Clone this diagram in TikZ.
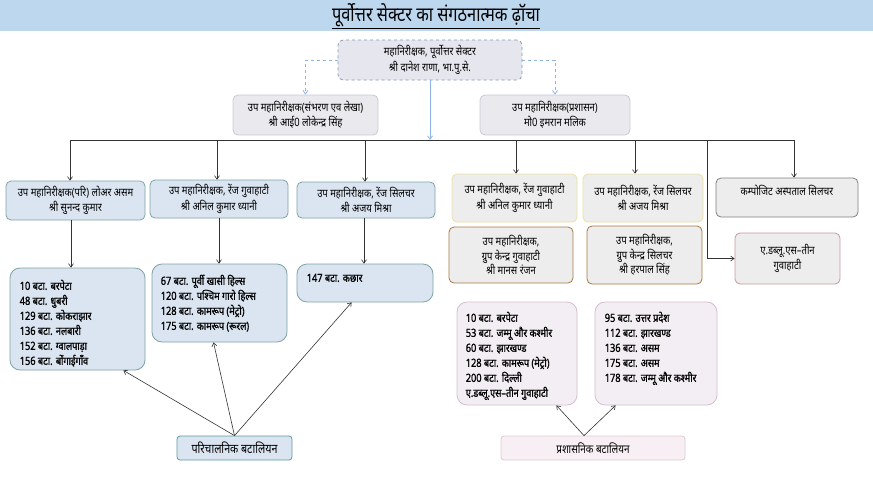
\documentclass[tikz,border=0pt]{standalone}
\usepackage{fontspec}
\setmainfont[Script=Devanagari]{Noto Sans}
\newfontfamily\hindi[Script=Devanagari,FakeStretch=0.82]{Noto Sans}
\newfontfamily\hindib[Script=Devanagari,FakeStretch=0.82,FakeBold=1.2]{Noto Sans}
\usetikzlibrary{arrows.meta}
\definecolor{titlebg}{HTML}{BDD7EE}
\definecolor{topfill}{HTML}{E6E6EE}
\definecolor{topdraw}{HTML}{8497B0}
\definecolor{dashc}{HTML}{8EB4E3}
\definecolor{lgfill}{HTML}{E9E9EE}
\definecolor{lgdraw}{HTML}{C9C9D6}
\definecolor{bluefill}{HTML}{DAE5F1}
\definecolor{bluedraw}{HTML}{7FA3A6}
\definecolor{grayfill}{HTML}{EDEDED}
\definecolor{yelldraw}{HTML}{EEDFA0}
\definecolor{compdraw}{HTML}{808080}
\definecolor{browndraw}{HTML}{A67842}
\definecolor{rosedraw}{HTML}{C79A9F}
\definecolor{pinkfill}{HTML}{F3EEF3}
\definecolor{pinkdraw}{HTML}{D6BCD0}
\definecolor{ponefill}{HTML}{DAE5F1}
\definecolor{ponedraw}{HTML}{5B9BA0}
\definecolor{ptwofill}{HTML}{F7EFF3}
\definecolor{ptwodraw}{HTML}{E0C8D3}
\definecolor{linec}{HTML}{333333}
\tikzset{
  every node/.style={font=\hindi\fontsize{11.5}{15.5}\selectfont, inner sep=0pt, text=black},
  box/.style={draw, rounded corners=5pt, line width=0.8pt, align=center},
  listbox/.style={draw, rounded corners=10pt, line width=0.8pt},
  listtext/.style={anchor=north west, align=left, font=\hindib\fontsize{11.2}{15}\selectfont},
  arr/.style={draw=linec, line width=0.6pt, -{Straight Barb[length=3.5pt,width=5pt]}},
  plain/.style={draw=linec, line width=0.6pt},
  bluearr/.style={draw=dashc, line width=0.8pt, -{Straight Barb[length=3.5pt,width=5pt]}},
  dasharr/.style={draw=dashc, line width=0.8pt, dashed, -{Straight Barb[length=3.5pt,width=5pt]}},
}
\begin{document}
\begin{tikzpicture}[x=1pt,y=-1pt]
\useasboundingbox (0,0) rectangle (873,491);
\fill[titlebg] (0,0) rectangle (873,31);
\node[font=\hindi\fontsize{20}{22}\selectfont] (title) at (436,15) {पूर्वोत्तर सेक्टर का संगठनात्मक ढ़ॉचा};
\draw[line width=0.7pt] ([yshift=-1pt]title.south west) -- ([yshift=-1pt]title.south east);

% top
\node[box, dashed, draw=topdraw, fill=topfill, minimum width=184, minimum height=40] (top) at (430,60) {महानिरीक्षक, पूर्वोत्तर सेक्टर\\श्री दानेश राणा, भा.पु.से.};
\node[box, draw=lgdraw, fill=lgfill, minimum width=145, minimum height=40] (A) at (305.5,115) {उप महानिरीक्षक(संभरण एव लेखा)\\श्री आई0 लोकेन्द्र सिंह};
\node[box, draw=lgdraw, fill=lgfill, minimum width=150, minimum height=40] (B) at (555,115) {उप महानिरीक्षक(प्रशासन)\\मो0 इमरान मलिक};
\draw[dasharr] (top.west) -| (A.north);
\draw[dasharr] (top.east) -| (B.north);

% hub line
\coordinate (hub) at (430,140);
\coordinate (h1) at (70,140);
\coordinate (h2) at (217,140);
\coordinate (h3) at (365,140);
\coordinate (h4) at (516,140);
\coordinate (h5) at (635,140);
\coordinate (h6) at (707,140);
\coordinate (h7) at (794,140);
\draw[bluearr] (top.south) -- (hub);
\draw[plain] (h1) -- (h7);

% level 3
\node[box, draw=bluedraw, fill=bluefill, minimum width=139, minimum height=39] (b1) at (75.5,200.5) {उप महानिरीक्षक(परि) लोअर असम\\श्री सुनन्द कुमार};
\node[box, draw=bluedraw, fill=bluefill, minimum width=138, minimum height=38] (b2) at (219,199) {उप महानिरीक्षक, रेंज गुवाहाटी\\श्री अनिल कुमार ध्यानी};
\node[box, draw=bluedraw, fill=bluefill, minimum width=138, minimum height=36] (b3) at (366,200) {उप महानिरीक्षक, रेंज सिलचर\\श्री अजय मिश्रा};
\node[box, draw=yelldraw, fill=grayfill, minimum width=125, minimum height=48] (b4) at (514.5,198) {उप महानिरीक्षक, रेंज गुवाहाटी\\श्री अनिल कुमार ध्यानी};
\node[box, draw=yelldraw, fill=grayfill, minimum width=120, minimum height=48] (b5) at (643,198) {उप महानिरीक्षक, रेंज सिलचर\\श्री अजय मिश्रा};
\node[box, draw=compdraw, fill=grayfill, minimum width=142, minimum height=39] (comp) at (787,197.5) {};
\node[anchor=center] (compt) at (787,190) {कम्पोजिट अस्पताल सिलचर};

\draw[arr] (h1) -- (h1 |- b1.north);
\draw[arr] (h2) -- (h2 |- b2.north);
\draw[arr] (h3) -- (h3 |- b3.north);
\draw[arr] (h4) -- (h4 |- b4.north);
\draw[arr] (h5) -- (h5 |- b5.north);
\draw[arr] (h7) -- (h7 |- comp.north);

\node[box, draw=browndraw, fill=grayfill, minimum width=124, minimum height=56, font=\hindi\fontsize{11.5}{14.5}\selectfont] (g1) at (511,255) {उप महानिरीक्षक,\\ग्रुप केन्द्र गुवाहाटी\\श्री मानस रंजन};
\node[box, draw=browndraw, fill=grayfill, minimum width=115, minimum height=58, font=\hindi\fontsize{11.5}{14.5}\selectfont] (g2) at (644.5,255) {उप महानिरीक्षक,\\ग्रुप केन्द्र सिलचर\\श्री हरपाल सिंह};
\node[box, draw=rosedraw, fill=grayfill, minimum width=105, minimum height=51] (aws) at (787.5,258.5) {ए.डब्लू.एस–तीन\\गुवाहाटी};
\draw[arr] (h6) |- (aws.west);

% lists left
\node[listbox, draw=bluedraw, fill=bluefill, minimum width=135, minimum height=102] (L1) at (77.5,319) {};
\node[listtext] (L1t) at ([shift={(10,12)}]L1.north west) {10 बटा. बरपेटा\\48 बटा. धुबरी\\129 बटा. कोकराझार\\136 बटा. नलबारी\\152 बटा. ग्वालपाड़ा\\156 बटा. बोंगाईगाँव};
\node[listbox, draw=bluedraw, fill=bluefill, minimum width=135, minimum height=78] (L2) at (219.5,303) {};
\node[listtext] (L2t) at ([shift={(9,11)}]L2.north west) {67 बटा. पूर्वी खासी हिल्स\\120 बटा. पश्चिम गारो हिल्स\\128 बटा. कामरूप (मेट्रो)\\175 बटा. कामरूप (रूरल)};
\node[listbox, draw=bluedraw, fill=bluefill, minimum width=136, minimum height=38] (L3) at (365,283) {};
\node[listtext] (L3t) at ([shift={(10,10)}]L3.north west) {147 बटा. कछार};

\draw[arr] (b1.south -| 71,0) -- (L1.north -| 71,0);
\draw[arr] (b2.south -| 219,0) -- (L2.north -| 219,0);
\draw[arr] (b3.south -| 364,0) -- (L3.north -| 364,0);

% lists right
\node[listbox, draw=pinkdraw, fill=pinkfill, minimum width=120, minimum height=103] (R1) at (517,353.5) {};
\node[listtext] (R1t) at ([shift={(9,10)}]R1.north west) {10 बटा. बरपेटा\\53 बटा. जम्मू और कश्मीर\\60 बटा. झारखण्ड\\128 बटा. कामरूप (मेट्रो)\\200 बटा. दिल्ली\\ए.डब्लू.एस–तीन गुवाहाटी};
\node[listbox, draw=pinkdraw, fill=pinkfill, minimum width=122, minimum height=103] (R2) at (656,353.5) {};
\node[listtext] (R2t) at ([shift={(10,10)}]R2.north west) {95 बटा. उत्तर प्रदेश\\112 बटा. झारखण्ड\\136 बटा. असम\\175 बटा. असम\\178 बटा. जम्मू और कश्मीर};

% bottom
\node[box, draw=ponedraw, fill=ponefill, minimum width=115, minimum height=24, rounded corners=3pt, font=\hindi\fontsize{13}{15}\selectfont] (P1) at (234.5,448) {परिचालनिक बटालियन};
\node[box, draw=ptwodraw, fill=ptwofill, minimum width=184, minimum height=24, rounded corners=3pt, font=\hindi\fontsize{12}{15}\selectfont] (P2) at (593,448) {प्रशासनिक बटालियन};

\draw[arr] (P1.north) -- ([xshift=-22pt]L1.south east);
\draw[arr] (P1.north) -- ([xshift=-6pt]L2.south);
\draw[arr] (P1.north) -- ([xshift=55pt]L3.south west);
\draw[arr] ([xshift=-9pt]P2.north) -- ([xshift=-21pt]R1.south east);
\draw[arr] ([xshift=-9pt]P2.north) -- ([xshift=21pt]R2.south west);
\end{tikzpicture}
\end{document}
